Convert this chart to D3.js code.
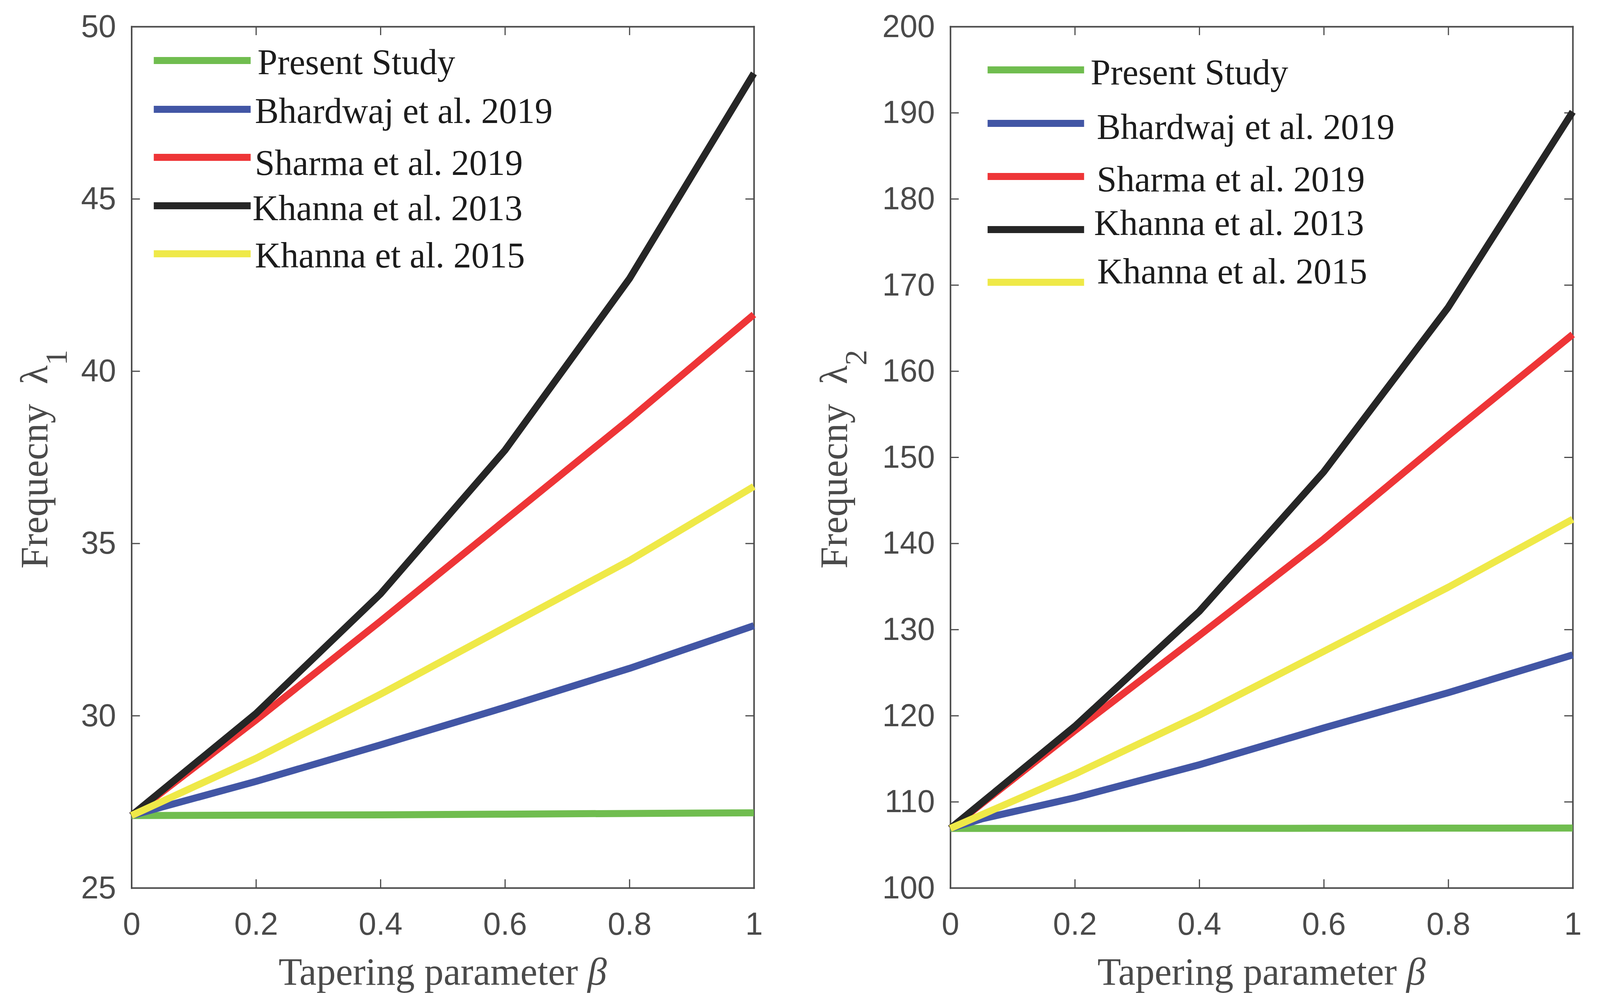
<!DOCTYPE html>
<html>
<head>
<meta charset="utf-8">
<script src="https://cdn.jsdelivr.net/npm/d3@7"></script>
<style>
  html, body { margin: 0; padding: 0; background: #ffffff; width: 100%; height: 100%; overflow: hidden; }
  svg { display: block; }
</style>
</head>
<body>
<script>
// ---------------- DATA ----------------
const seriesNames = ["Present Study", "Bhardwaj et al. 2019", "Sharma et al. 2019", "Khanna et al. 2013", "Khanna et al. 2015"];

const betaMain  = [0, 0.2, 0.4, 0.6, 0.8, 1];
const betaBlue  = [0, 0.05, 0.2, 0.4, 0.6, 0.8, 1];

// Panel 1 : lambda 1
const lam1Present   = [27.10, 27.11, 27.12, 27.14, 27.16, 27.18];
const lam1Bhardwaj  = [27.10, 27.35, 28.09, 29.15, 30.24, 31.37, 32.61];
const lam1Sharma    = [27.10, 29.87, 32.74, 35.67, 38.60, 41.64];
const lam1Khanna13  = [27.10, 30.06, 33.53, 37.70, 42.68, 48.64];
const lam1Khanna15  = [27.10, 28.76, 30.62, 32.56, 34.50, 36.65];

// Panel 2 : lambda 2
const lam2Present   = [106.90, 106.90, 106.91, 106.92, 106.93, 106.95];
const lam2Bhardwaj  = [106.90, 108.00, 110.46, 114.29, 118.57, 122.66, 127.05];
const lam2Sharma    = [106.90, 118.25, 129.30, 140.50, 152.50, 164.25];
const lam2Khanna13  = [106.90, 118.75, 132.10, 148.30, 167.40, 190.10];
const lam2Khanna15  = [106.90, 113.20, 120.05, 127.46, 134.90, 142.80];

const xTickValues = [0, 0.2, 0.4, 0.6, 0.8, 1];
const xTickLabels = ["0", "0.2", "0.4", "0.6", "0.8", "1"];
const y1TickValues = [25, 30, 35, 40, 45, 50];
const y1TickLabels = ["25", "30", "35", "40", "45", "50"];
const y2TickValues = [100, 110, 120, 130, 140, 150, 160, 170, 180, 190, 200];
const y2TickLabels = ["100", "110", "120", "130", "140", "150", "160", "170", "180", "190", "200"];

const xLabelText = "Tapering parameter ";
const xLabelSymbol = "\u03B2";
const yLabelText = "Frequecny";
const yLabelSymbol = "\u03BB";
const y1Sub = "1";
const y2Sub = "2";

// ---------------- STYLE / LAYOUT ----------------
const W = 4162, H = 2574;
const seriesColors = ["#70bd4f", "#4256a5", "#ee3537", "#262626", "#efe948"];
const seriesWidth = 18;
const axisColor = "#4a4a4a";
const tickTextColor = "#4a4a4a";
const legendTextColor = "#1c1c1c";

const panels = [
  {
    left: 342, right: 1961, top: 68, bottom: 2274,
    yDomain: [25, 50], yTicks: y1TickValues, yTickLabels: y1TickLabels,
    sub: y1Sub, yLabelX: 123,
    series: [
      { x: betaMain, y: lam1Present },
      { x: betaBlue, y: lam1Bhardwaj },
      { x: betaMain, y: lam1Sharma },
      { x: betaMain, y: lam1Khanna13 },
      { x: betaMain, y: lam1Khanna15 }
    ],
    legend: { lineX1: 400, lineX2: 652,
      lineY: [155, 280, 403, 527, 650],
      textX: [670, 663, 663, 657, 663],
      textY: [190, 315, 448, 564, 685] }
  },
  {
    left: 2472, right: 4091, top: 68, bottom: 2274,
    yDomain: [100, 200], yTicks: y2TickValues, yTickLabels: y2TickLabels,
    sub: y2Sub, yLabelX: 2203,
    series: [
      { x: betaMain, y: lam2Present },
      { x: betaBlue, y: lam2Bhardwaj },
      { x: betaMain, y: lam2Sharma },
      { x: betaMain, y: lam2Khanna13 },
      { x: betaMain, y: lam2Khanna15 }
    ],
    legend: { lineX1: 2569, lineX2: 2820,
      lineY: [179, 316, 452, 588, 723],
      textX: [2837, 2853, 2853, 2846, 2854],
      textY: [216, 356, 490, 602, 726] }
  }
];

const svg = d3.select("body").append("svg")
  .attr("width", "100%").attr("height", "100%")
  .style("width", "100vw").style("height", "100vh")
  .attr("viewBox", `0 0 ${W} ${H}`)
  .attr("preserveAspectRatio", "none");

svg.append("rect").attr("width", W).attr("height", H).attr("fill", "#ffffff");

const tickLen = 22;
const tickFont = "'Liberation Sans', Arial, Helvetica, sans-serif";
const serifFont = "'Liberation Serif', 'Times New Roman', Times, serif";

panels.forEach(p => {
  const x = d3.scaleLinear().domain([0, 1]).range([p.left, p.right]);
  const y = d3.scaleLinear().domain(p.yDomain).range([p.bottom, p.top]);
  const g = svg.append("g");

  // Axes (ticks inward, box on)
  const styleAxis = (sel) => {
    sel.select(".domain").attr("stroke", axisColor).attr("stroke-width", 4).attr("stroke-linecap", "square");
    sel.selectAll(".tick line").attr("stroke", axisColor).attr("stroke-width", 3);
    sel.selectAll(".tick text")
      .attr("fill", tickTextColor)
      .style("font-family", tickFont)
      .style("font-size", "82px");
  };

  g.append("g").attr("transform", `translate(0,${p.bottom})`)
    .call(d3.axisBottom(x).tickValues(xTickValues).tickFormat((d, i) => xTickLabels[i])
      .tickSizeInner(-tickLen).tickSizeOuter(0).tickPadding(62))
    .call(styleAxis);

  g.append("g").attr("transform", `translate(0,${p.top})`)
    .call(d3.axisTop(x).tickValues(xTickValues).tickFormat("")
      .tickSizeInner(-tickLen).tickSizeOuter(0))
    .call(styleAxis);

  g.append("g").attr("transform", `translate(${p.left},0)`)
    .call(d3.axisLeft(y).tickValues(p.yTicks).tickFormat((d, i) => p.yTickLabels[i])
      .tickSizeInner(-tickLen).tickSizeOuter(0).tickPadding(40))
    .call(styleAxis);

  g.append("g").attr("transform", `translate(${p.right},0)`)
    .call(d3.axisRight(y).tickValues(p.yTicks).tickFormat("")
      .tickSizeInner(-tickLen).tickSizeOuter(0))
    .call(styleAxis);

  // Data lines
  const line = d3.line().x(d => x(d[0])).y(d => y(d[1]));
  p.series.forEach((s, i) => {
    const pts = s.x.map((v, k) => [v, s.y[k]]);
    g.append("path")
      .attr("d", line(pts))
      .attr("fill", "none")
      .attr("stroke", seriesColors[i])
      .attr("stroke-width", seriesWidth)
      .attr("stroke-linejoin", "round")
      .attr("stroke-linecap", "butt");
  });

  // Legend
  seriesNames.forEach((name, i) => {
    g.append("line")
      .attr("x1", p.legend.lineX1).attr("x2", p.legend.lineX2)
      .attr("y1", p.legend.lineY[i]).attr("y2", p.legend.lineY[i])
      .attr("stroke", seriesColors[i]).attr("stroke-width", 18);
    g.append("text")
      .attr("x", p.legend.textX[i]).attr("y", p.legend.textY[i])
      .attr("fill", legendTextColor)
      .style("font-family", serifFont)
      .style("font-size", "93px")
      .text(name);
  });

  // X label
  const xl = g.append("text")
    .attr("x", (p.left + p.right) / 2).attr("y", 2522)
    .attr("text-anchor", "middle")
    .attr("fill", tickTextColor)
    .style("font-family", serifFont)
    .style("font-size", "100px");
  xl.append("tspan").text(xLabelText);
  xl.append("tspan").style("font-style", "italic").text(xLabelSymbol);

  // Y label
  const cy = (p.top + p.bottom) / 2 + 5;
  const yl = g.append("text")
    .attr("transform", `translate(${p.yLabelX},${cy}) rotate(-90)`)
    .attr("text-anchor", "middle")
    .attr("fill", tickTextColor)
    .style("font-family", serifFont)
    .style("font-size", "100px");
  yl.append("tspan").text(yLabelText + "\u00A0\u00A0" + yLabelSymbol);
  yl.append("tspan").attr("dy", 50).style("font-size", "80px").text(p.sub);
});
</script>
</body>
</html>
